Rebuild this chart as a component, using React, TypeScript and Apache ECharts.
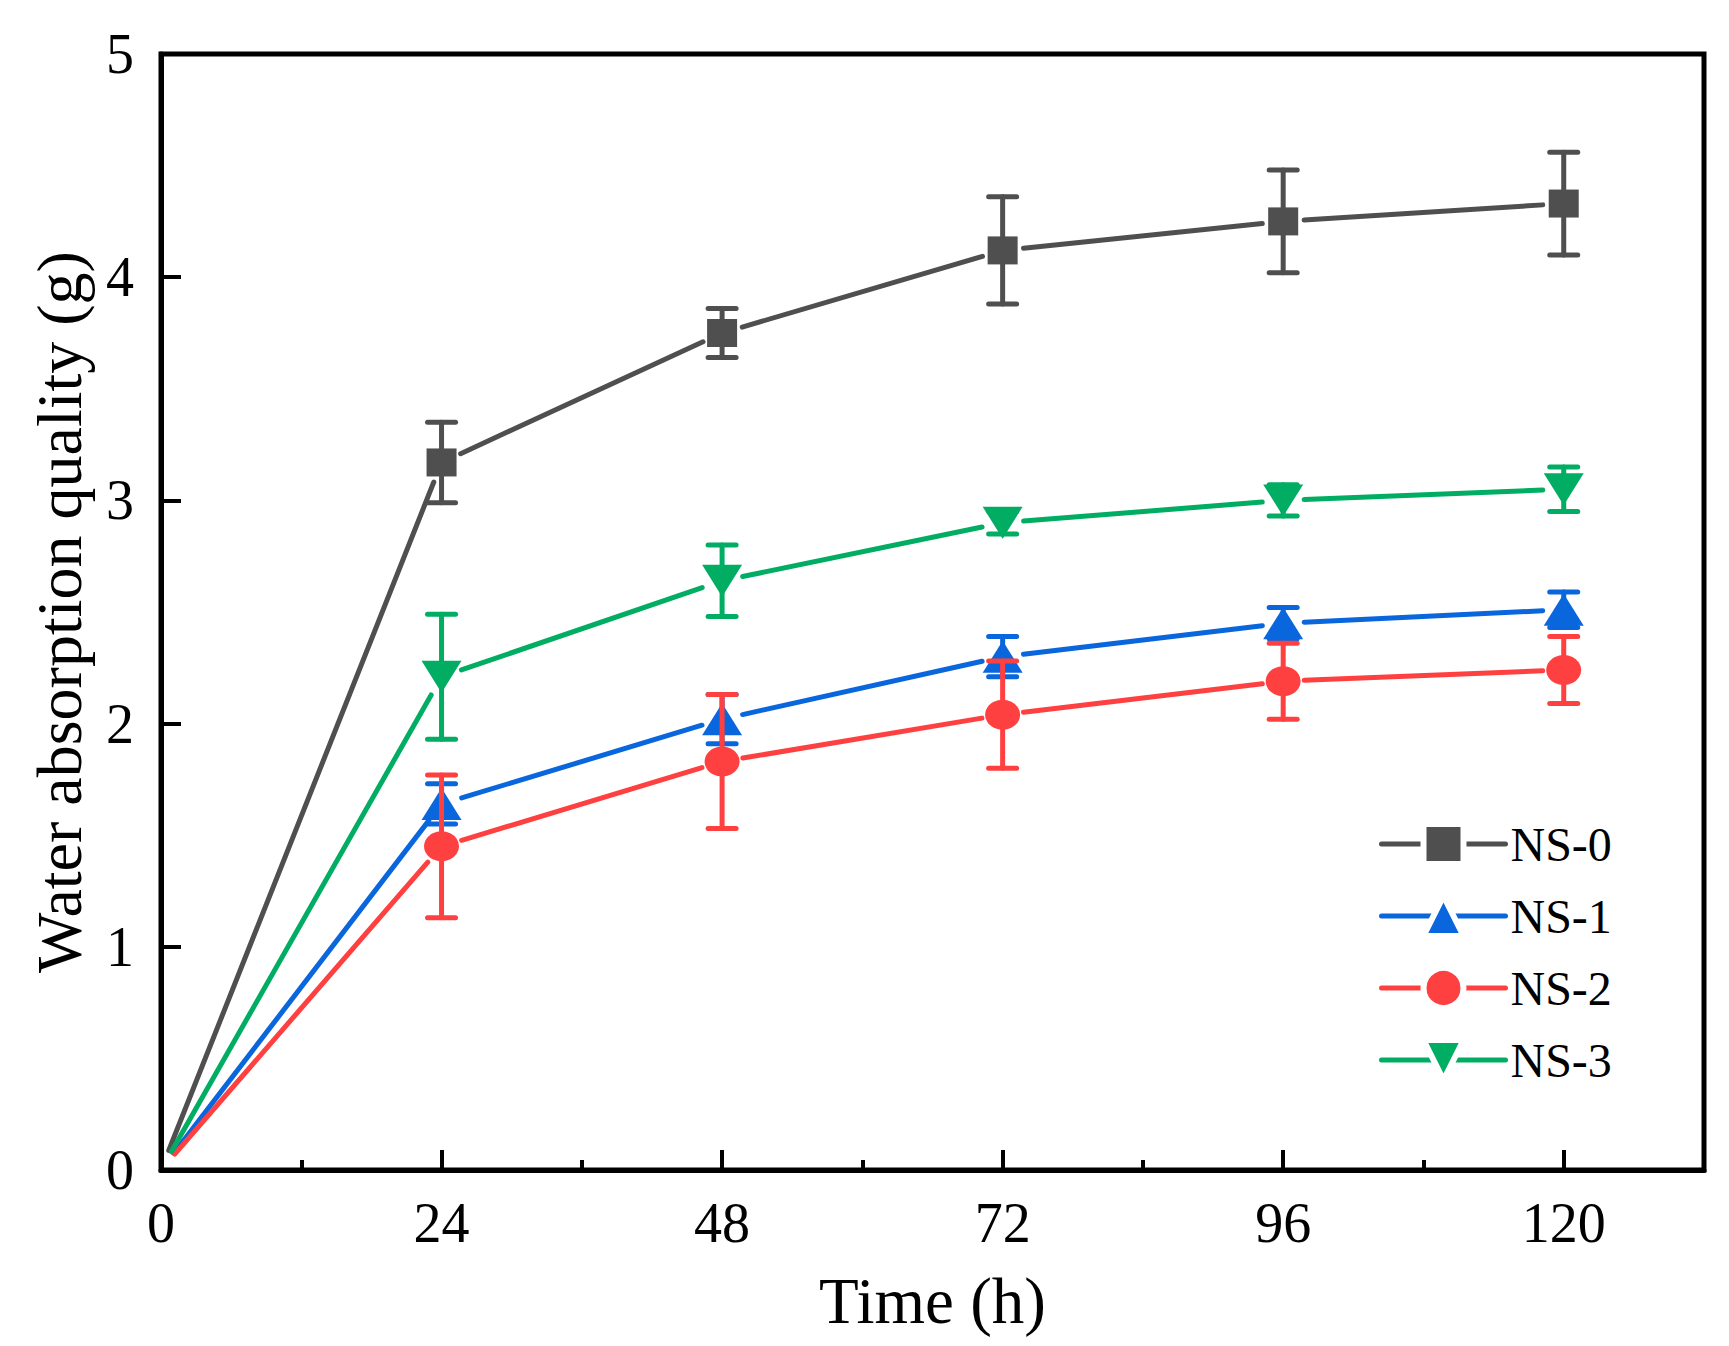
import React, { useEffect, useRef } from "react";
import * as echarts from "echarts";

const hours = [0, 24, 48, 72, 96, 120];
const seriesNames = ["NS-0", "NS-1", "NS-2", "NS-3"];
const ns0 = [0, 3.17, 3.75, 4.12, 4.25, 4.33];
const ns0Err = [0, 0.18, 0.11, 0.24, 0.23, 0.23];
const ns1 = [0, 1.64, 2.02, 2.3, 2.45, 2.51];
const ns1Err = [0, 0.09, 0.11, 0.09, 0.07, 0.08];
const ns2 = [0, 1.45, 1.83, 2.04, 2.19, 2.24];
const ns2Err = [0, 0.32, 0.3, 0.24, 0.17, 0.15];
const ns3 = [0, 2.21, 2.64, 2.9, 3.0, 3.05];
const ns3Err = [0, 0.28, 0.16, 0.05, 0.07, 0.1];
const xTicks = [0, 24, 48, 72, 96, 120];
const yTicks = [0, 1, 2, 3, 4, 5];

const colors = ["#4f4f4f", "#0a66dc", "#ff4040", "#00ad62"];
const symbols = ["rect", "triangle", "circle", "triangle"];
const symbolSizes: any[] = [[30, 28], [40, 32], [35, 30], [40, 32]];
const symbolRotates = [0, 0, 0, 180];
const FONT = "'Liberation Serif', 'Times New Roman', serif";

export default function App() {
  const ref = useRef<HTMLDivElement>(null);
  useEffect(() => {
    if (!ref.current) return;
    const chart = echarts.init(ref.current, undefined, { renderer: "svg" });
    const values = [ns0, ns1, ns2, ns3];
    const errs = [ns0Err, ns1Err, ns2Err, ns3Err];
    const GAP = 21;
    const series: any[] = [];
    values.forEach((vals, si) => {
      const color = colors[si];
      const segs = [];
      for (let i = 0; i < hours.length - 1; i++) {
        segs.push([hours[i], vals[i], hours[i + 1], vals[i + 1]]);
      }
      series.push({
        name: seriesNames[si] + " line",
        type: "custom",
        z: 2,
        silent: true,
        encode: { x: [0, 2], y: [1, 3] },
        data: segs,
        renderItem: (params: any, api: any) => {
          const a = api.coord([api.value(0), api.value(1)]);
          const b = api.coord([api.value(2), api.value(3)]);
          const dx = b[0] - a[0];
          const dy = b[1] - a[1];
          const len = Math.hypot(dx, dy) || 1;
          const ux = dx / len;
          const uy = dy / len;
          return {
            type: "line",
            shape: { x1: a[0] + ux * GAP, y1: a[1] + uy * GAP, x2: b[0] - ux * GAP, y2: b[1] - uy * GAP },
            style: { stroke: color, lineWidth: 5, lineCap: "round" },
          };
        },
      });
    });
    values.forEach((vals, si) => {
      series.push({
        name: seriesNames[si],
        type: "line",
        z: 3,
        symbol: symbols[si],
        symbolSize: symbolSizes[si],
        symbolRotate: symbolRotates[si],
        itemStyle: { color: colors[si] },
        lineStyle: { color: colors[si], width: 5, opacity: 0 },
        data: hours.map((h, i) => (i === 0 ? { value: [h, vals[i]], symbol: "none" } : [h, vals[i]])),
      });
    });
    values.forEach((vals, si) => {
      const color = colors[si];
      series.push({
        name: seriesNames[si] + " err",
        type: "custom",
        z: 4,
        silent: true,
        encode: { x: 0, y: 1 },
        data: hours.map((h, i) => [h, vals[i], errs[si][i]]),
        renderItem: (params: any, api: any) => {
          const x = api.value(0);
          const y = api.value(1);
          const e = api.value(2);
          if (!e) return null;
          const top = api.coord([x, y + e]);
          const bot = api.coord([x, y - e]);
          const hw = 14;
          const st = { stroke: color, lineWidth: 5, lineCap: "round" };
          return {
            type: "group",
            children: [
              { type: "line", shape: { x1: top[0], y1: top[1], x2: bot[0], y2: bot[1] }, style: st },
              { type: "line", shape: { x1: top[0] - hw, y1: top[1], x2: top[0] + hw, y2: top[1] }, style: st },
              { type: "line", shape: { x1: bot[0] - hw, y1: bot[1], x2: bot[0] + hw, y2: bot[1] }, style: st },
            ],
          };
        },
      });
    });

    chart.setOption({
      animation: false,
      backgroundColor: "#ffffff",
      textStyle: { fontFamily: FONT },
      grid: {
        left: 161,
        right: 25,
        top: 54,
        bottom: 176,
        show: true,
        borderColor: "#000",
        borderWidth: 5,
        containLabel: false,
      },
      legend: {
        orient: "vertical",
        left: 1374,
        top: 815,
        itemWidth: 124,
        itemHeight: 50,
        itemGap: 24,
        data: seriesNames,
        textStyle: { fontFamily: FONT, fontSize: 48, color: "#000" },
        itemStyle: { borderColor: "#ffffff", borderWidth: 6 },
        lineStyle: { width: 5, opacity: 1, cap: "round" },
        selectedMode: false,
      },
      xAxis: [
        {
          type: "value",
          min: 0,
          max: 132,
          interval: 24,
          name: "Time (h)",
          nameLocation: "middle",
          nameGap: 98,
          nameTextStyle: { fontFamily: FONT, fontSize: 65, color: "#000" },
          axisLine: { show: true, onZero: false, lineStyle: { color: "#000", width: 5 } },
          axisTick: { show: true, inside: true, length: 20, lineStyle: { color: "#000", width: 4 } },
          axisLabel: {
            show: true,
            margin: 25,
            fontFamily: FONT,
            fontSize: 56,
            color: "#000",
            formatter: (v: number) => (xTicks.indexOf(v) >= 0 ? String(v) : ""),
          },
          splitLine: { show: false },
        },
        {
          type: "value",
          min: 0,
          max: 132,
          interval: 12,
          position: "bottom",
          axisLine: { show: false },
          axisTick: { show: true, inside: true, length: 10, lineStyle: { color: "#000", width: 4 } },
          axisLabel: { show: false },
          splitLine: { show: false },
        },
      ],
      yAxis: {
        type: "value",
        min: 0,
        max: 5,
        interval: 1,
        name: "Water absorption quality (g)",
        nameLocation: "middle",
        nameGap: 70,
        nameTextStyle: { fontFamily: FONT, fontSize: 64, color: "#000" },
        axisLine: { show: true, onZero: false, lineStyle: { color: "#000", width: 5 } },
        axisTick: { show: true, inside: true, length: 20, lineStyle: { color: "#000", width: 4 } },
        axisLabel: {
          margin: 27,
          fontFamily: FONT,
          fontSize: 56,
          color: "#000",
          formatter: (v: number) => (yTicks.indexOf(v) >= 0 ? String(v) : ""),
        },
        splitLine: { show: false },
      },
      series,
    });
    return () => chart.dispose();
  }, []);
  return (
    <div
      ref={ref}
      style={{ position: "absolute", left: 0, top: 0, width: 1729, height: 1346, background: "#fff" }}
    />
  );
}
